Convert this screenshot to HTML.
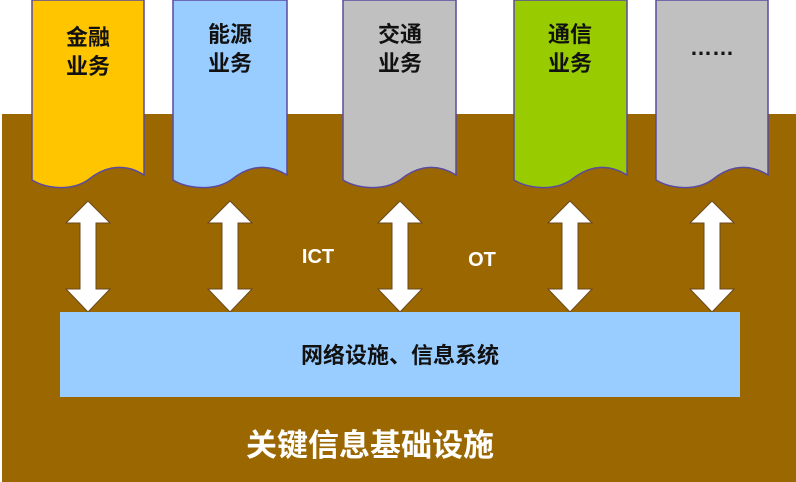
<!DOCTYPE html>
<html><head><meta charset="utf-8"><style>
body{margin:0;width:796px;height:482px;overflow:hidden;background:#fff;font-family:"Liberation Sans","Noto Sans CJK SC",sans-serif}
svg{display:block}
text{font-weight:bold}
</style></head><body>
<svg width="796" height="482" viewBox="0 0 796 482">
<rect x="2" y="114" width="794" height="368" fill="#9a6700"/>
<g stroke="#5a4aa0" stroke-width="1.5">
<path d="M32,0 H144 V175 C120,160 100,170 88,180 C70,192 45,188 32,180 Z" fill="#ffc600"/>
<path d="M173,0 H287 V175 C263,160 243,170 231,180 C213,192 186,188 173,180 Z" fill="#99ccff"/>
<path d="M343,0 H456 V175 C432,160 412,170 400,180 C382,192 356,188 343,180 Z" fill="#c0c0c0"/>
<path d="M514,0 H627 V175 C603,160 583,170 571,180 C553,192 527,188 514,180 Z" fill="#99cc00"/>
<path d="M656,0 H768 V175 C744,160 724,170 712,180 C694,192 669,188 656,180 Z" fill="#c0c0c0"/>
</g>
<g font-size="22" fill="#111" text-anchor="middle">
<text x="88" y="45">金融</text><text x="88" y="74">业务</text>
<text x="230" y="42">能源</text><text x="230" y="71">业务</text>
<text x="400" y="42">交通</text><text x="400" y="71">业务</text>
<text x="570" y="42">通信</text><text x="570" y="71">业务</text>
<text x="712" y="55">……</text>
</g>
<g fill="#fff" stroke="#6a4a20" stroke-width="1">
<path id="a" d="M0,-111 L22,-89 H8 V-23 H22 L0,0 L-22,-23 H-8 V-89 H-22 Z" transform="translate(88,312)"/>
<use href="#a" transform="translate(142,0)"/>
<use href="#a" transform="translate(312,0)"/>
<use href="#a" transform="translate(482,0)"/>
<use href="#a" transform="translate(624,0)"/>
</g>
<text x="318" y="263" font-size="20" fill="#fff" text-anchor="middle">ICT</text>
<text x="482" y="266" font-size="20" fill="#fff" text-anchor="middle">OT</text>
<rect x="60" y="312" width="680" height="85" fill="#99ccff"/>
<text x="400" y="363" font-size="22" fill="#111" text-anchor="middle">网络设施、信息系统</text>
<text x="370" y="456" font-size="31" fill="#fff" text-anchor="middle">关键信息基础设施</text>
</svg>
</body></html>
